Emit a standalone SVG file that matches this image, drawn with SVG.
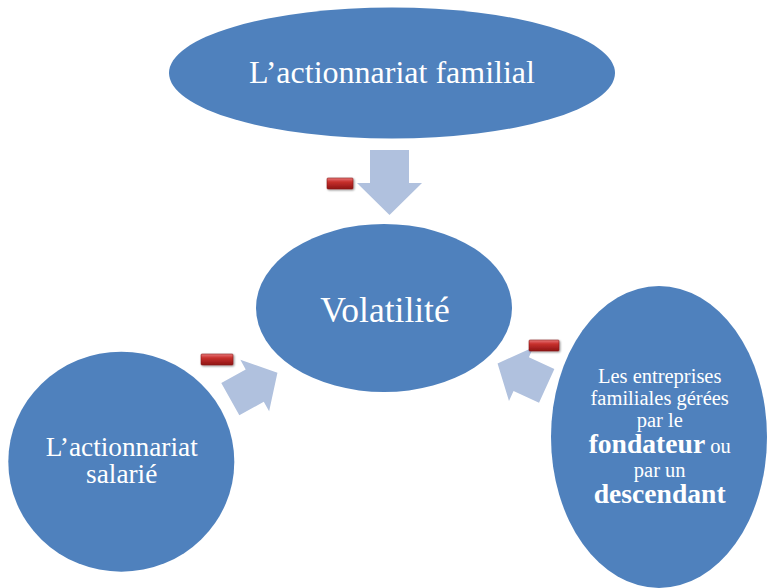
<svg xmlns="http://www.w3.org/2000/svg" width="767" height="588" viewBox="0 0 767 588">
  <defs>
    <linearGradient id="minusFill" x1="0" y1="0" x2="0" y2="1">
      <stop offset="0" stop-color="#e87a78"/>
      <stop offset="0.35" stop-color="#c8302e"/>
      <stop offset="1" stop-color="#8e1414"/>
    </linearGradient>
    <filter id="softShadow" x="-20%" y="-40%" width="140%" height="200%">
      <feGaussianBlur in="SourceAlpha" stdDeviation="0.8"/>
      <feOffset dx="0.5" dy="1.2" result="b"/>
      <feComponentTransfer><feFuncA type="linear" slope="0.45"/></feComponentTransfer>
      <feMerge><feMergeNode/><feMergeNode in="SourceGraphic"/></feMerge>
    </filter>
    <!-- block arrows, drawn pointing along +x from the tail at the origin -->
    <polygon id="arrowLong" points="0,-19.5 33,-19.5 33,-32.5 65,0 33,32.5 33,19.5 0,19.5"/>
    <polygon id="arrowShort" points="0,-18.5 28,-18.5 28,-29.5 54,0 28,29.5 28,18.5 0,18.5"/>
  </defs>
  <style>
    .node { fill: #4f81bd; }
    .lbl { fill: #ffffff; text-anchor: middle; }
    .arrow { fill: #b0c1de; }
    .minus { fill: url(#minusFill); stroke: #8a1a1a; stroke-width: 0.6; filter: url(#softShadow); }
  </style>

  <rect width="767" height="588" fill="#ffffff"/>

  <g id="connectors">
    <use href="#arrowLong" class="arrow" transform="translate(389.5,150) rotate(90)"/>
    <use href="#arrowShort" class="arrow" transform="translate(230.3,399.2) rotate(-29.2)"/>
    <use href="#arrowShort" class="arrow" transform="translate(546.7,385.8) rotate(204.5)"/>
    <rect class="minus" x="327" y="178" width="26" height="11" rx="1"/>
    <rect class="minus" x="201" y="354" width="32" height="11" rx="1"/>
    <rect class="minus" x="529" y="340" width="30" height="11" rx="1"/>
  </g>

  <g font-family="'Liberation Serif', Tinos, 'Times New Roman', 'DejaVu Serif', serif">
    <g id="node-familial">
      <ellipse class="node" cx="392" cy="73" rx="223" ry="65.5"/>
      <text class="lbl" x="392" y="82.7" font-size="32">L’actionnariat familial</text>
    </g>

    <g id="node-volatilite">
      <ellipse class="node" cx="384" cy="308" rx="128" ry="84"/>
      <text class="lbl" x="385" y="321.7" font-size="35.5">Volatilité</text>
    </g>

    <g id="node-salarie">
      <ellipse class="node" cx="121.3" cy="461.7" rx="113" ry="110"/>
      <text class="lbl" x="121.7" y="456" font-size="27.3">L’actionnariat</text>
      <text class="lbl" x="121.7" y="483.3" font-size="27.3">salarié</text>
    </g>

    <g id="node-entreprises">
      <ellipse class="node" cx="659" cy="437" rx="108" ry="151"/>
      <text class="lbl" x="659.7" y="383.3" font-size="20.5">Les entreprises</text>
      <text class="lbl" x="659.7" y="405" font-size="20.5">familiales gérées</text>
      <text class="lbl" x="659.7" y="426.7" font-size="20.5">par le</text>
      <text class="lbl" x="659.7" y="453.3" font-size="20.5"><tspan font-weight="bold" font-size="27.6">fondateur</tspan> ou</text>
      <text class="lbl" x="659.7" y="476.7" font-size="20.5">par un</text>
      <text class="lbl" x="659.7" y="502.7" font-size="27.6" font-weight="bold">descendant</text>
    </g>
  </g>
</svg>
